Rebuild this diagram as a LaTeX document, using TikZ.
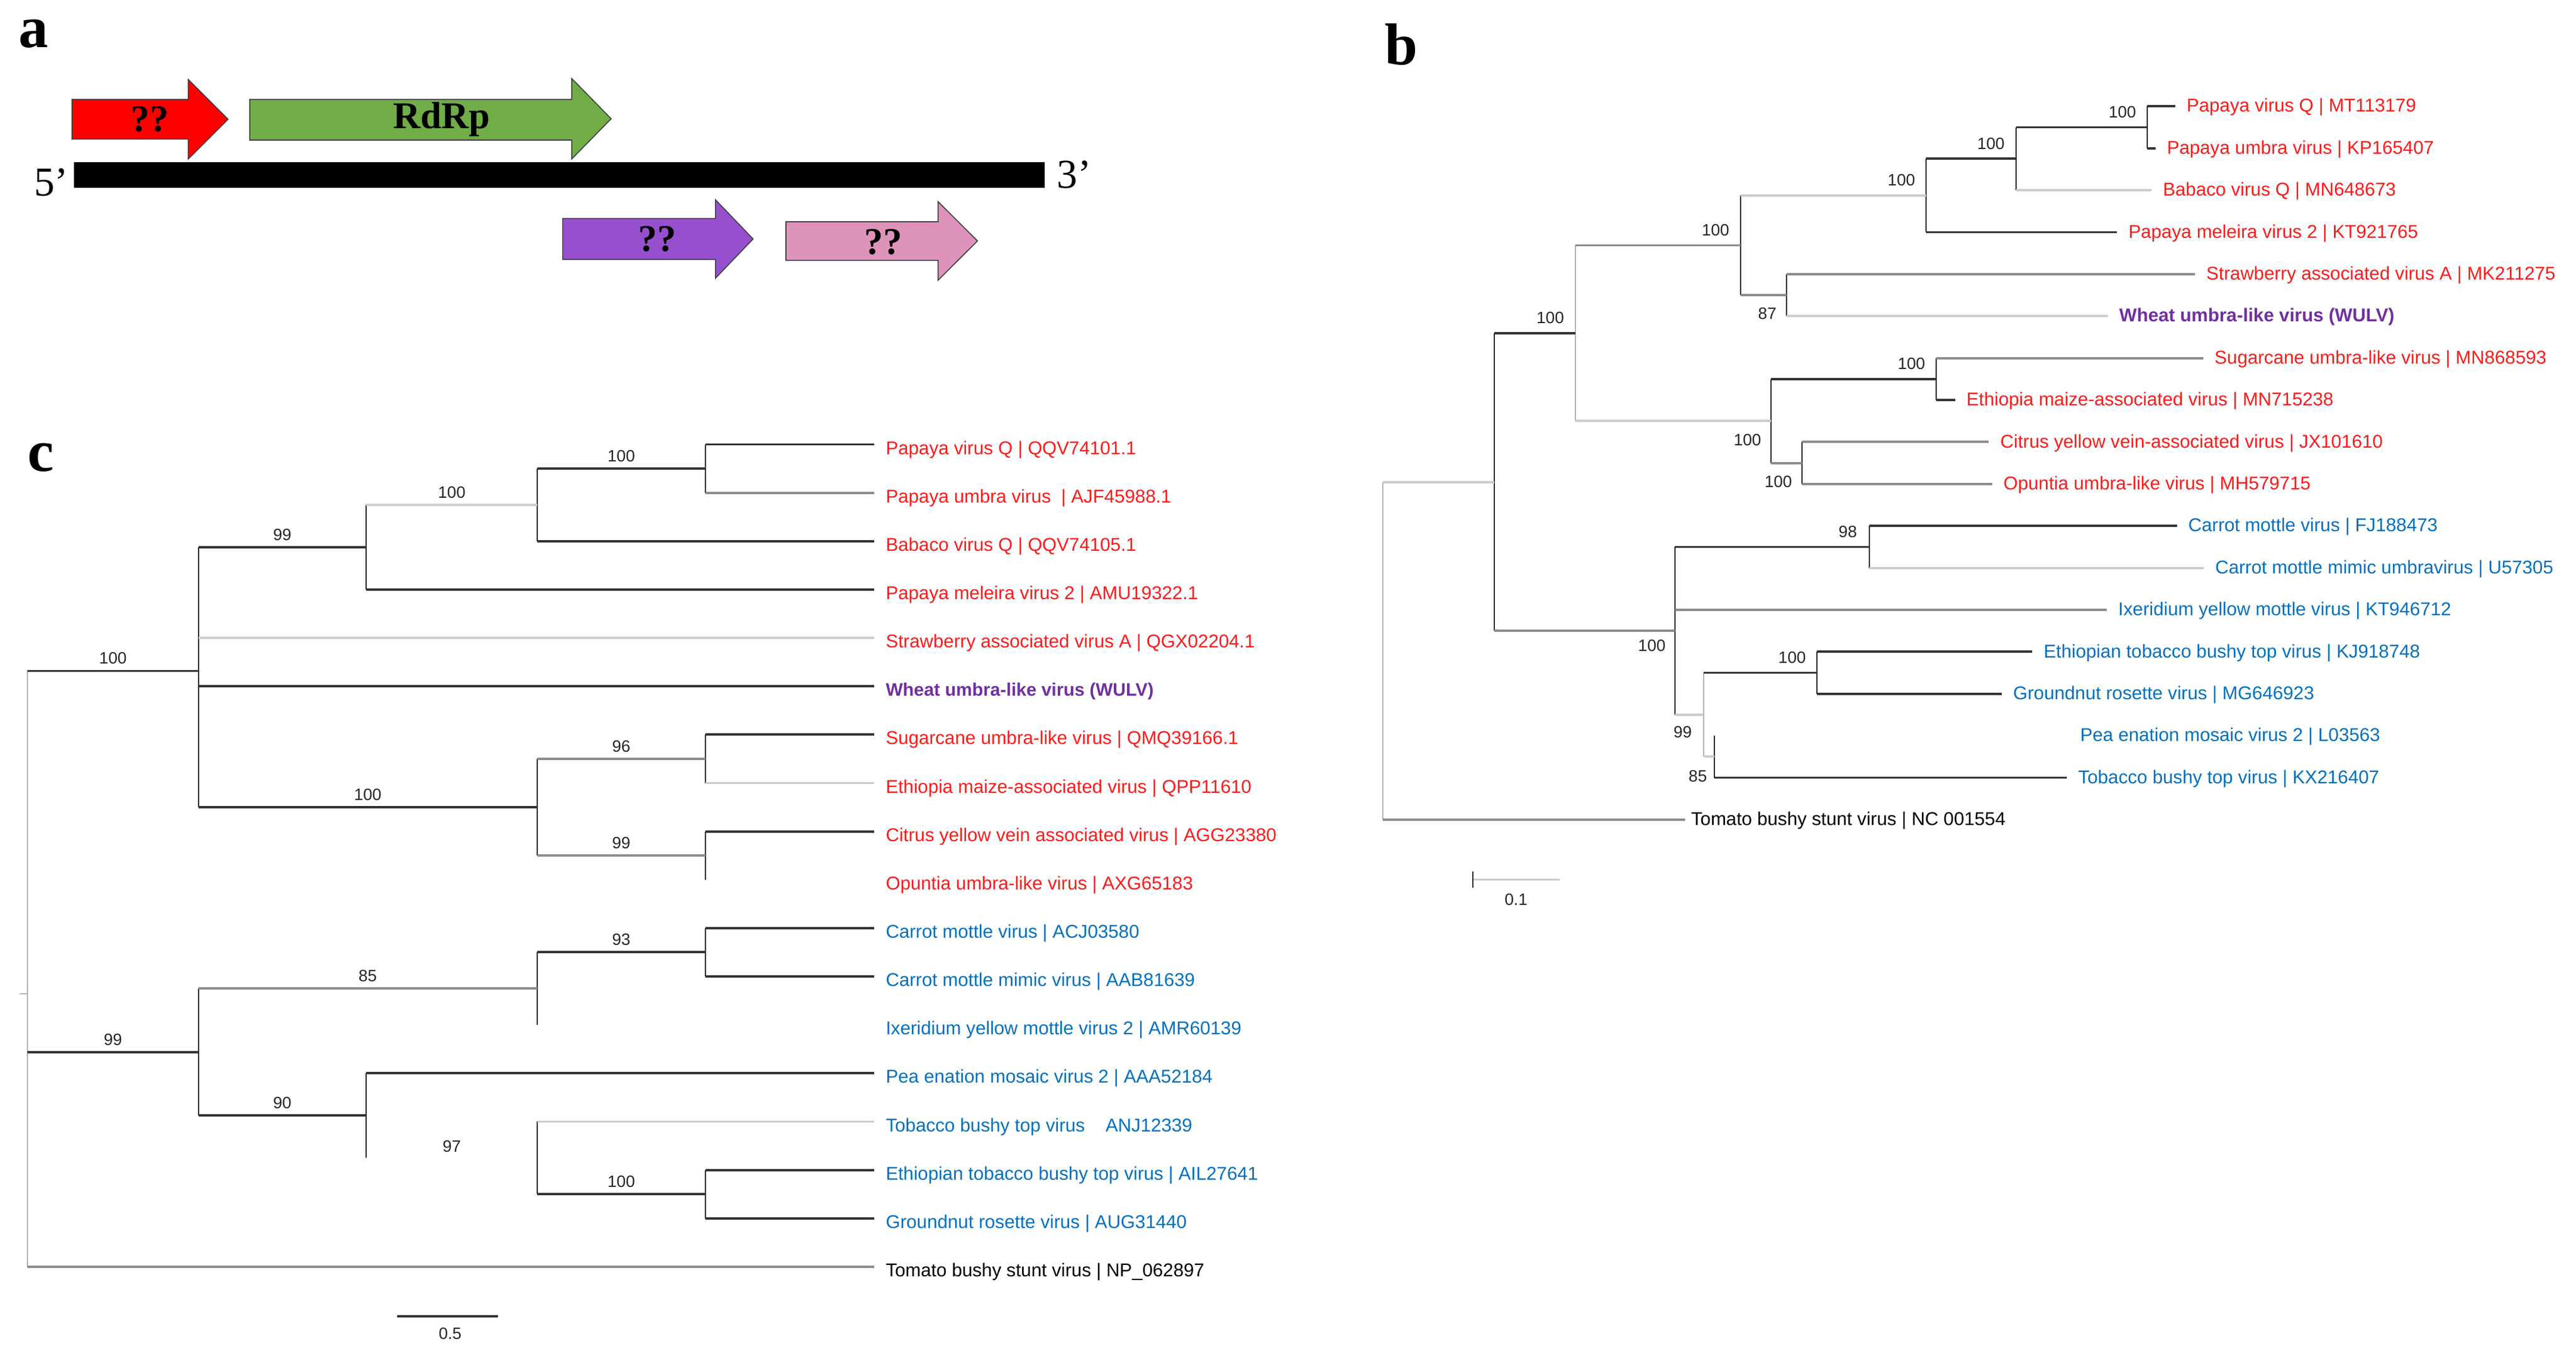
\documentclass[tikz,border=0pt]{standalone}
\usepackage{fontspec}
\setmainfont{Liberation Serif}
\setsansfont{Liberation Sans}
\usetikzlibrary{positioning}
\definecolor{OrfRed}{HTML}{FF0000}
\definecolor{OrfGreen}{HTML}{70AD47}
\definecolor{OrfPurple}{HTML}{9650CD}
\definecolor{OrfPink}{HTML}{DE94BA}
\definecolor{TreeRed}{HTML}{FF1A1A}
\definecolor{TreeBlue}{HTML}{0070C0}
\definecolor{TreePurple}{HTML}{7030A0}

\begin{document}
\begin{tikzpicture}[x=1pt, y=-1pt,
    panel/.style={font=\bfseries\fontsize{36}{36}\selectfont, inner sep=0pt},
    orf/.style={draw=black!75, line width=0.6pt},
    orflab/.style={font=\bfseries\fontsize{23}{23}\selectfont, inner sep=0pt},
    endlab/.style={font=\fontsize{25}{25}\selectfont, inner sep=0pt},
    lfb/.style={anchor=west, font=\sffamily\fontsize{11.3}{13}\selectfont, inner xsep=6.8pt, inner ysep=0pt, text height=8pt, text depth=1pt},
    lfc/.style={lfb, text height=13pt},
    bs/.style={font=\sffamily\fontsize{10}{11}\selectfont, text=black!85, inner sep=1pt},
    bsc/.style={bs, above=2.4pt},
    vl/.style={line width=0.7pt, black!85},
    vlg/.style={line width=0.7pt, black!30},
    dk/.style={line width=1.4pt, black!80},
    md/.style={line width=1.4pt, black!45},
    lt/.style={line width=1.4pt, black!20}]
\useasboundingbox (0,0) rectangle (1568,826.8);

% ---- panel a: genome map
\node[panel] (la) at (20.5,20.5) {a};
\node[fill=black, minimum width=591pt, minimum height=15.7pt, inner sep=0pt] (genome) at (340.5,106.45) {};
\node[endlab, anchor=east] (five) at ([xshift=-3pt, yshift=-4.5pt]genome.west) {5’};
\node[endlab, anchor=west] (three) at ([xshift=7pt]genome.east) {3’};

\draw[orf, fill=OrfRed] (43.8,60.5) -- (114.6,60.5) -- (114.6,48.4) -- (138.8,72.6) -- (114.6,96.8) -- (114.6,84.7) -- (43.8,84.7) -- cycle;
\draw[orf, fill=OrfGreen] (152,60.5) -- (348,60.5) -- (348,47.8) -- (372,72.3) -- (348,96.8) -- (348,85.3) -- (152,85.3) -- cycle;
\draw[orf, fill=OrfPurple] (342.5,133) -- (435.5,133) -- (435.5,121.6) -- (458.4,145.5) -- (435.5,169.4) -- (435.5,158) -- (342.5,158) -- cycle;
\draw[orf, fill=OrfPink] (478.4,135) -- (571,135) -- (571,122.8) -- (595,146.7) -- (571,170.6) -- (571,158.5) -- (478.4,158.5) -- cycle;
\node[orflab] (orf1) at (91.2,72.6) {??};
\node[orflab] (rdrp) at (268.8,72.6) {RdRp};
\node[orflab] (orf3) at (400,145.5) {??};
\node[orflab] (orf4) at (537.6,147.2) {??};

% ---- panel b: RdRp tree
\node[panel] (lb) at (853,27) {b};
\node[lfb, text=TreeRed] (b1) at (1324,64.7) {Papaya virus Q | MT113179};
\node[lfb, text=TreeRed] (b2) at (1312,90.25) {Papaya umbra virus | KP165407};
\node[lfb, text=TreeRed] (b3) at (1309.6,115.8) {Babaco virus Q | MN648673};
\node[lfb, text=TreeRed] (b4) at (1288.6,141.35) {Papaya meleira virus 2 | KT921765};
\node[lfb, text=TreeRed] (b5) at (1336,166.9) {Strawberry associated virus A | MK211275};
\node[lfb, text=TreePurple, font=\sffamily\bfseries\fontsize{11.3}{13}\selectfont] (b6) at (1283,192.45) {Wheat umbra-like virus (WULV)};
\node[lfb, text=TreeRed] (b7) at (1341,218) {Sugarcane umbra-like virus | MN868593};
\node[lfb, text=TreeRed] (b8) at (1190,243.55) {Ethiopia maize-associated virus | MN715238};
\node[lfb, text=TreeRed] (b9) at (1210.6,269.1) {Citrus yellow vein-associated virus | JX101610};
\node[lfb, text=TreeRed] (b10) at (1212.5,294.65) {Opuntia umbra-like virus | MH579715};
\node[lfb, text=TreeBlue] (b11) at (1325,320.2) {Carrot mottle virus | FJ188473};
\node[lfb, text=TreeBlue] (b12) at (1341.4,345.75) {Carrot mottle mimic umbravirus | U57305};
\node[lfb, text=TreeBlue] (b13) at (1282.4,371.3) {Ixeridium yellow mottle virus | KT946712};
\node[lfb, text=TreeBlue] (b14) at (1237,396.85) {Ethiopian tobacco bushy top virus | KJ918748};
\node[lfb, text=TreeBlue] (b15) at (1218.4,422.4) {Groundnut rosette virus | MG646923};
\node[lfb, text=TreeBlue] (b16) at (1259.2,447.95) {Pea enation mosaic virus 2 | L03563};
\node[lfb, text=TreeBlue] (b17) at (1258,473.5) {Tobacco bushy top virus | KX216407};
\node[lfb, inner xsep=3.5pt] (b18) at (1025.7,499.05) {Tomato bushy stunt virus | NC 001554};

\coordinate (bA) at (1307,77.5);
\coordinate (bB) at (1227,96.65);
\coordinate (bC) at (1172.5,119);
\coordinate (bE) at (1087.5,179.7);
\coordinate (bD) at (1059.4,149.35);
\coordinate (bH) at (1178.6,230.8);
\coordinate (bI) at (1096.8,281.9);
\coordinate (bG) at (1078,256.35);
\coordinate (bF) at (958.8,202.85);
\coordinate (bK) at (1138,333);
\coordinate (bM) at (1106,409.6);
\coordinate (bN) at (1043.5,460.7);
\coordinate (bO) at (1037,435.15);
\coordinate (bJ) at (1019.6,384.1);
\coordinate (bR) at (909.6,293.5);
\coordinate (bT) at (841.8,396.3);

% vertical lines
\draw[vl] (bA |- b1.west) -- (bA |- b2.west);
\draw[vl] (bB |- bA) -- (bB |- b3.west);
\draw[vl] (bC |- bB) -- (bC |- b4.west);
\draw[vl] (bE |- b5.west) -- (bE |- b6.west);
\draw[vl] (bD |- bC) -- (bD |- bE);
\draw[vl] (bH |- b7.west) -- (bH |- b8.west);
\draw[vl] (bI |- b9.west) -- (bI |- b10.west);
\draw[vl] (bG |- bH) -- (bG |- bI);
\draw[vlg] (bF |- bD) -- (bF |- bG);
\draw[vl] (bK |- b11.west) -- (bK |- b12.west);
\draw[vl] (bM |- b14.west) -- (bM |- b15.west);
\draw[vl] (bN |- b16.west) -- (bN |- b17.west);
\draw[vlg] (bO |- bM) -- (bO |- bN);
\draw[vl] (bJ |- bK) -- (bJ |- bO);
\draw[vl] (bR |- bF) -- (bR |- bJ);
\draw[vlg] (bT |- bR) -- (bT |- b18.west);

% branches
\draw[dk] (bA |- b1.west) -- (b1.west);
\draw[dk] (bA |- b2.west) -- (b2.west);
\draw[dk] (bB |- bA) -- (bA);
\draw[lt] (bB |- b3.west) -- (b3.west);
\draw[dk] (bC |- bB) -- (bB);
\draw[dk] (bC |- b4.west) -- (b4.west);
\draw[lt] (bD |- bC) -- (bC);
\draw[md] (bD |- bE) -- (bE);
\draw[md] (bE |- b5.west) -- (b5.west);
\draw[lt] (bE |- b6.west) -- (b6.west);
\draw[md] (bF |- bD) -- (bD);
\draw[lt] (bF |- bG) -- (bG);
\draw[dk] (bG |- bH) -- (bH);
\draw[md] (bH |- b7.west) -- (b7.west);
\draw[dk] (bH |- b8.west) -- (b8.west);
\draw[md] (bG |- bI) -- (bI);
\draw[md] (bI |- b9.west) -- (b9.west);
\draw[md] (bI |- b10.west) -- (b10.west);
\draw[dk] (bR |- bF) -- (bF);
\draw[md] (bR |- bJ) -- (bJ);
\draw[lt] (bT |- bR) -- (bR);
\draw[dk] (bJ |- bK) -- (bK);
\draw[dk] (bK |- b11.west) -- (b11.west);
\draw[lt] (bK |- b12.west) -- (b12.west);
\draw[md] (bJ |- b13.west) -- (b13.west);
\draw[lt] (bJ |- bO) -- (bO);
\draw[dk] (bO |- bM) -- (bM);
\draw[dk] (bM |- b14.west) -- (b14.west);
\draw[dk] (bM |- b15.west) -- (b15.west);
\draw[lt] (bO |- bN) -- (bN);
\draw[dk] (bN |- b17.west) -- (b17.west);
\draw[md] (bT |- b18.west) -- (b18.west);

% bootstrap values
\node[bs, above left=4.6pt and 5.6pt of bA] {100};
\node[bs, above left=4.6pt and 5.6pt of bB] {100};
\node[bs, above left=4.6pt and 5.6pt of bC] {100};
\node[bs, above left=4.6pt and 5.6pt of bD] {100};
\node[bs, below left=6.6pt and 5pt of bE] {87};
\node[bs, above left=4.6pt and 5.6pt of bF] {100};
\node[bs, above left=4.6pt and 5.6pt of bH] {100};
\node[bs, below left=6.6pt and 4.8pt of bG] {100};
\node[bs, below left=6.6pt and 4.8pt of bI] {100};
\node[bs, above left=4.6pt and 6.5pt of bK] {98};
\node[bs, below left=4.3pt and 4.6pt of bJ] {100};
\node[bs, above left=4.6pt and 5.6pt of bM] {100};
\node[bs, below left=5.9pt and 6pt of bO] {99};
\node[bs, below left=7.2pt and 3.3pt of bN] {85};

% scale
\coordinate (bsb1) at (896.6,535.5);
\coordinate (bsb2) at (949.4,535.5);
\draw[lt, line width=0.9pt] (bsb1) -- (bsb2);
\draw[vl] ([yshift=5pt]bsb1) -- ([yshift=-5pt]bsb1);
\node[bs] (bsl) at (922.8,547.6) {0.1};

% ---- panel c: CP tree
\node[panel] (lc) at (25,278.5) {c};
\node[lfc, text=TreeRed] (c1) at (532.2,270.6) {Papaya virus Q | QQV74101.1};
\node[lfc, text=TreeRed] (c2) at (532.2,300.05) {Papaya umbra virus \ | AJF45988.1};
\node[lfc, text=TreeRed] (c3) at (532.2,329.5) {Babaco virus Q | QQV74105.1};
\node[lfc, text=TreeRed] (c4) at (532.2,358.95) {Papaya meleira virus 2 | AMU19322.1};
\node[lfc, text=TreeRed] (c5) at (532.2,388.4) {Strawberry associated virus A | QGX02204.1};
\node[lfc, text=TreePurple, font=\sffamily\bfseries\fontsize{11}{13}\selectfont] (c6) at (532.2,417.85) {Wheat umbra-like virus (WULV)};
\node[lfc, text=TreeRed] (c7) at (532.2,447.3) {Sugarcane umbra-like virus | QMQ39166.1};
\node[lfc, text=TreeRed] (c8) at (532.2,476.75) {Ethiopia maize-associated virus | QPP11610};
\node[lfc, text=TreeRed] (c9) at (532.2,506.2) {Citrus yellow vein associated virus | AGG23380};
\node[lfc, text=TreeRed] (c10) at (532.2,535.65) {Opuntia umbra-like virus | AXG65183};
\node[lfc, text=TreeBlue] (c11) at (532.2,565.1) {Carrot mottle virus | ACJ03580};
\node[lfc, text=TreeBlue] (c12) at (532.2,594.55) {Carrot mottle mimic virus | AAB81639};
\node[lfc, text=TreeBlue] (c13) at (532.2,624) {Ixeridium yellow mottle virus 2 | AMR60139};
\node[lfc, text=TreeBlue] (c14) at (532.2,653.45) {Pea enation mosaic virus 2 | AAA52184};
\node[lfc, text=TreeBlue] (c15) at (532.2,682.9) {Tobacco bushy top virus \ \ \ ANJ12339};
\node[lfc, text=TreeBlue] (c16) at (532.2,712.35) {Ethiopian tobacco bushy top virus | AIL27641};
\node[lfc, text=TreeBlue] (c17) at (532.2,741.8) {Groundnut rosette virus | AUG31440};
\node[lfc] (c18) at (532.2,771.25) {Tomato bushy stunt virus | NP\_062897};

\coordinate (cA) at (429.3,285.3);
\coordinate (cB) at (327,307.4);
\coordinate (cC) at (223,333.2);
\coordinate (cD) at (120.7,408.5);
\coordinate (cF) at (429.3,462);
\coordinate (cG) at (429.3,520.9);
\coordinate (cE) at (327,491.5);
\coordinate (cH) at (429.3,579.8);
\coordinate (cI) at (327,601.9);
\coordinate (cM) at (429.3,727.1);
\coordinate (cL) at (327,705);
\coordinate (cK) at (223,679.2);
\coordinate (cJ) at (120.7,640.5);
\coordinate (cR) at (16.8,590);
\coordinate (cS) at (12,605);

% vertical lines
\draw[vl] (cA |- c1.west) -- (cA |- c2.west);
\draw[vl] (cB |- cA) -- (cB |- c3.west);
\draw[vl] (cC |- cB) -- (cC |- c4.west);
\draw[vl] (cD |- cC) -- (cD |- cE);
\draw[vl] (cF |- c7.west) -- (cF |- c8.west);
\draw[vl] (cG |- c9.west) -- (cG |- c10.west);
\draw[vl] (cE |- cF) -- (cE |- cG);
\draw[vl] (cH |- c11.west) -- (cH |- c12.west);
\draw[vl] (cI |- cH) -- (cI |- c13.west);
\draw[vl] (cM |- c16.west) -- (cM |- c17.west);
\draw[vl] (cL |- c15.west) -- (cL |- cM);
\draw[vl] (cK |- c14.west) -- (cK |- cL);
\draw[vl] (cJ |- cI) -- (cJ |- cK);
\draw[vlg] (cR |- cD) -- (cR |- c18.west);
\draw[vlg] (cS) -- (cR |- cS);

% branches
\draw[dk] (cA |- c1.west) -- (c1.west);
\draw[md] (cA |- c2.west) -- (c2.west);
\draw[dk] (cB |- cA) -- node[bsc] {100} (cA);
\draw[dk] (cB |- c3.west) -- (c3.west);
\draw[lt] (cC |- cB) -- node[bsc] {100} (cB);
\draw[dk] (cC |- c4.west) -- (c4.west);
\draw[dk] (cD |- cC) -- node[bsc] {99} (cC);
\draw[lt] (cD |- c5.west) -- (c5.west);
\draw[dk] (cD |- c6.west) -- (c6.west);
\draw[dk] (cR |- cD) -- node[bsc] {100} (cD);
\draw[dk] (cF |- c7.west) -- (c7.west);
\draw[lt] (cF |- c8.west) -- (c8.west);
\draw[md] (cE |- cF) -- node[bsc] {96} (cF);
\draw[dk] (cG |- c9.west) -- (c9.west);
\draw[md] (cE |- cG) -- node[bsc] {99} (cG);
\draw[dk] (cD |- cE) -- node[bsc] {100} (cE);
\draw[dk] (cH |- c11.west) -- (c11.west);
\draw[dk] (cH |- c12.west) -- (c12.west);
\draw[dk] (cI |- cH) -- node[bsc] {93} (cH);
\draw[md] (cJ |- cI) -- node[bsc] {85} (cI);
\draw[dk] (cR |- cJ) -- node[bsc] {99} (cJ);
\draw[dk] (cK |- c14.west) -- (c14.west);
\draw[dk] (cJ |- cK) -- node[bsc] {90} (cK);
\path (cK |- cL) -- node[bsc] {97} (cL);
\draw[lt] (cL |- c15.west) -- (c15.west);
\draw[dk] (cM |- c16.west) -- (c16.west);
\draw[dk] (cM |- c17.west) -- (c17.west);
\draw[dk] (cL |- cM) -- node[bsc] {100} (cM);
\draw[md] (cR |- c18.west) -- (c18.west);

% scale
\coordinate (csb1) at (241.9,801.4);
\coordinate (csb2) at (303,801.4);
\draw[dk] (csb1) -- (csb2);
\node[bs] (csl) at (274,811.9) {0.5};
\end{tikzpicture}
\end{document}
